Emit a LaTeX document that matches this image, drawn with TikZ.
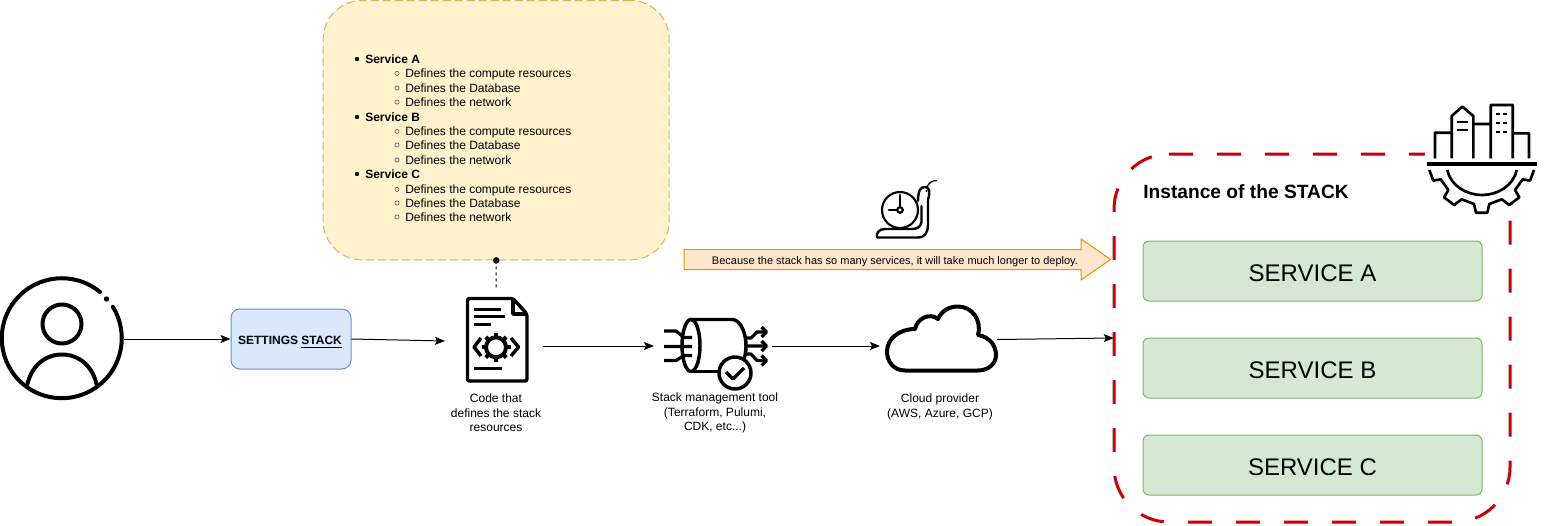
\documentclass[tikz,border=0pt]{standalone}
\usepackage{fontspec}
\setmainfont{Liberation Sans}
\usetikzlibrary{arrows.meta,positioning}
\tikzset{
    flow/.style={-{Stealth[length=7.5pt,width=6pt,inset=1.5pt]},line width=.75pt},
    bluebox/.style={draw=blue1,fill=blue2,rounded corners=6.75pt,minimum width=90pt,minimum height=45pt,inner sep=0pt,line width=.75pt,text height=8.7pt,text depth=0pt},
    svcbox/.style={draw=green1,fill=green2,rounded corners=4.5pt,minimum width=254.25pt,minimum height=45pt,inner sep=0pt,line width=.75pt,font=\fontsize{18}{20}\selectfont,text height=15.2pt,text depth=0pt},
    notebox/.style={draw=yellow1,fill=yellow2,rounded corners=29pt,minimum width=259.5pt,minimum height=194.5pt,inner sep=0pt,line width=.75pt,dash pattern=on 6pt off 3pt},
    caption/.style={align=center,inner sep=0pt,font=\fontsize{9}{10.8}\selectfont},
    listtext/.style={anchor=west,inner sep=0pt,font=\fontsize{9}{10.8}\selectfont},
    iconline/.style={line width=2.6pt,line join=round},
    thinicon/.style={line width=1.6pt,line join=round,line cap=round},
}
\definecolor{blue1}{HTML}{6C8EBF}
\definecolor{blue2}{HTML}{DAE8FC}
\definecolor{green1}{HTML}{82B366}
\definecolor{green2}{HTML}{D5E8D4}
\definecolor{yellow1}{HTML}{D6B656}
\definecolor{yellow2}{HTML}{FFF2CC}
\definecolor{orange1}{HTML}{D79B00}
\definecolor{orange2}{HTML}{FFE6CC}
\definecolor{stackred}{HTML}{CC0000}

\begin{document}
\begin{tikzpicture}[x=.75pt,y=-.75pt,node distance=72.75pt]
    \useasboundingbox (0,0) rectangle (1546,525);

    % note with the services
    \node (note) [notebox] at (496.2,130.2) {};
    \foreach \ltr/\y in {A/59,B/117,C/174} {
        \fill (357,\y) circle (2.2);
        \node (svc\ltr) [listtext] at (365,\y) {\textbf{Service \ltr}};
    }
    \foreach \y/\txt [count=\i] in {73.4/compute resources,88/Database,102/network,131.4/compute resources,145/Database,160/network,189.4/compute resources,203/Database,217/network} {
        \draw[line width=.4pt,black!70] (397,\y) circle (2.1);
        \node (def\i) [listtext] at (405,\y+.5) {Defines the \txt};
    }

    % user
    \node (user) [circle,minimum size=93pt,inner sep=0pt] at (62,339) {};
    \draw[iconline,line width=3pt,line cap=round] (100,292) arc[start angle=50.4,end angle=391.6,radius=45pt];
    \fill (106.5,299) circle (2.7);
    \draw[iconline,line width=3pt] (62,324) circle (19.5);
    \draw[iconline,line width=3pt] (27,386) .. controls (31,366) and (45,354.5) .. (62,354.5) .. controls (79,354.5) and (93,366) .. (97,386);

    \node (settings) [bluebox,font=\fontsize{9}{11}\selectfont\bfseries] at (291,339) {SETTINGS \underline{STACK}\kern1.5pt};

    % code file
    \coordinate (codein) at (445,341);
    \coordinate (codeout) at (543,346);
    \coordinate (codetop) at (496,289);
    \draw[iconline,rounded corners=1.5pt] (513,298.5) -- (467.5,298.5) -- (467.5,381) -- (527,381) -- (527,314) -- cycle;
    \draw[iconline] (513,298.5) -- (513,314) -- (527,314);
    \draw[iconline] (474,309.5) -- (501,309.5) (474,316.7) -- (505,316.7) (474,324.3) -- (491,324.3) (474,368.7) -- (502,368.7);
    \draw[iconline] (481,338) -- (474,347) -- (481,356) (511,338) -- (518.5,347) -- (511,356);
    \draw[iconline,line width=3pt] (496,347.3) circle (10);
    \foreach \a in {0,45,...,315} {
        \draw[line width=3pt] (496,347.3) ++(\a:10) -- ++(\a:4.5);
    }
    \node (codetxt) [caption] at (496,413) {Code that\\defines the stack\\resources};

    % stack tool
    \coordinate (toolin) at (654,346);
    \coordinate (toolout) at (772,346);
    \draw[iconline] (691,345.5) ellipse (9 and 26);
    \draw[iconline] (691,319.5) -- (733,319.5) .. controls (741,321) and (746,333) .. (746,346) .. controls (746,352) and (745,357) .. (743,361);
    \draw[iconline] (691,371.5) -- (719,371.5);
    \draw[iconline,fill=white] (735,373) circle (16);
    \draw[iconline] (726,372) -- (733,379) -- (744,368);
    \draw[iconline,line width=2.4pt] (664,346.5) -- (692,346.5) (664,331) -- (676,331) -- (684,337.5) -- (692,337.5) (664,360.5) -- (676,360.5) -- (684,355.5) -- (692,355.5);
    \draw[iconline,line width=2.4pt] (746,346) -- (766,346) (746,338) -- (751,338) -- (757,332) -- (766,332) (746,354) -- (751,354) -- (757,360.5) -- (766,360.5);
    \foreach \y in {332,346,360.5} {
        \draw[iconline,line width=2.4pt] (761.5,\y-5) -- (766.5,\y) -- (761.5,\y+5);
    }
    \node (tooltxt) [caption] at (715,413) {Stack management tool\\(Terraform, Pulumi,\\CDK, etc...)};

    % cloud
    \coordinate (cloudin) at (880,346);
    \coordinate (cloudout) at (997,339.5);
    \draw[iconline,line width=3pt] (905,370.5) .. controls (894,370.5) and (887,362) .. (887,351.5) .. controls (887,339) and (899,329) .. (915,329) .. controls (917,319) and (929,312) .. (938,319) .. controls (942,310) and (950,306.5) .. (958,306.5) .. controls (972,306.5) and (982,320) .. (978,335) .. controls (990,337) and (996,346) .. (996,355) .. controls (996,364) and (988,370.5) .. (978,370.5) -- cycle;
    \node (cloudtxt) [caption] at (940,407) {Cloud provider\\(AWS, Azure, GCP)};

    % slow deploy arrow
    \draw[draw=orange1,fill=orange2,line width=.75pt] (684,249.5) -- (1081,249.5) -- (1081,239) -- (1110.5,259.5) -- (1081,280) -- (1081,269.5) -- (684,269.5) -- cycle;
    \node (slowtxt) [inner sep=0pt,font=\fontsize{8.25}{10}\selectfont] at (895,261.7) {Because the stack has so many services, it will take much longer to deploy.};

    % snail
    \draw[thinicon] (900,210) circle (18);
    \draw[thinicon] (900,195) -- (900,207) (889,210) -- (897,210);
    \draw[thinicon] (900,210) circle (2.8);
    \draw[thinicon,line width=1.8pt] (918,201) .. controls (918,192) and (920,186) .. (926,187) .. controls (930,189) and (930,192) .. (928,200) -- (928,225) .. controls (928,232) and (925,237.5) .. (918,237.5) -- (877,237.5) .. controls (876,233) and (879,229) .. (885,229) -- (912,229) .. controls (917,229) and (920.5,227) .. (921.5,222) -- (921.5,206);
    \fill (926.5,191) circle (1.2);
    \draw[line width=1pt] (927,187) .. controls (929,182) and (933,180.5) .. (937,180.5);

    % instance of the stack
    \node (stack) [minimum width=297pt,minimum height=276pt,inner sep=0pt] at (1312,338) {};
    \draw[stackred,line width=2.25pt,dash pattern=on 18pt off 18pt] (1169,154) -- (1455,154) arc[start angle=90,end angle=0,radius=41.25pt] -- (1510,467) arc[start angle=0,end angle=-90,radius=41.25pt] -- (1169,522) arc[start angle=270,end angle=180,radius=41.25pt] -- (1114,209) arc[start angle=180,end angle=90,radius=41.25pt];
    \node (title) [anchor=west,inner sep=0pt,font=\fontsize{14.4}{16}\selectfont\bfseries] at (1143,191.5) {Instance of the STACK};
    \node (svcboxA) [svcbox] at (1312.5,271) {SERVICE A};
    \node (svcboxB) [svcbox,below of=svcboxA] {SERVICE B};
    \node (svcboxC) [svcbox,below of=svcboxB] {SERVICE C};

    % building and gear
    \fill[white] (1425,100) rectangle (1540,215);
    \begin{scope}[shift={(1400,90)},x=.25pt,y=-.25pt]
        \draw[line width=2.6pt] (82,222) -- (410,222);
        \draw[line width=2pt,line join=round] (105,205) -- (105,128) -- (155,128) (155,205) -- (155,78) -- (187,50) -- (220,78) -- (220,205) (220,102) -- (272,102) (272,205) -- (272,45) -- (338,45) -- (338,205) (338,130) -- (387,130) -- (387,205);
        \draw[line width=1.6pt] (172,95) -- (203,95) (172,120) -- (203,120);
        \draw[line width=1.5pt] (288,72) -- (300,72) (310,72) -- (322,72) (288,98) -- (300,98) (310,98) -- (322,98) (288,125) -- (300,125) (310,125) -- (322,125);
        \draw[line width=2pt,line join=round] (88,240) -- (100,272) -- (122,268) -- (145,300) -- (132,322) -- (162,345) -- (185,328) -- (222,342) -- (228,368) -- (262,368) -- (268,342) -- (305,328) -- (328,345) -- (358,322) -- (345,300) -- (368,268) -- (390,272) -- (402,240);
        \draw[line width=2pt] (142,240) .. controls (152,288) and (200,315) .. (246,315) .. controls (292,315) and (340,288) .. (350,240);
    \end{scope}

    % connectors
    \draw[flow] (user) -- (settings);
    \draw[flow] (settings.east) -- (codein);
    \draw[flow] (codeout) -- (toolin);
    \draw[flow] (toolout) -- (cloudin);
    \draw[flow] (cloudout) -- (stack.west);
    \draw[line width=.75pt,dash pattern=on 2.25pt off 2.25pt] (note.south) -- (codetop);
    \fill (note.south) circle (3.3);
\end{tikzpicture}
\end{document}
